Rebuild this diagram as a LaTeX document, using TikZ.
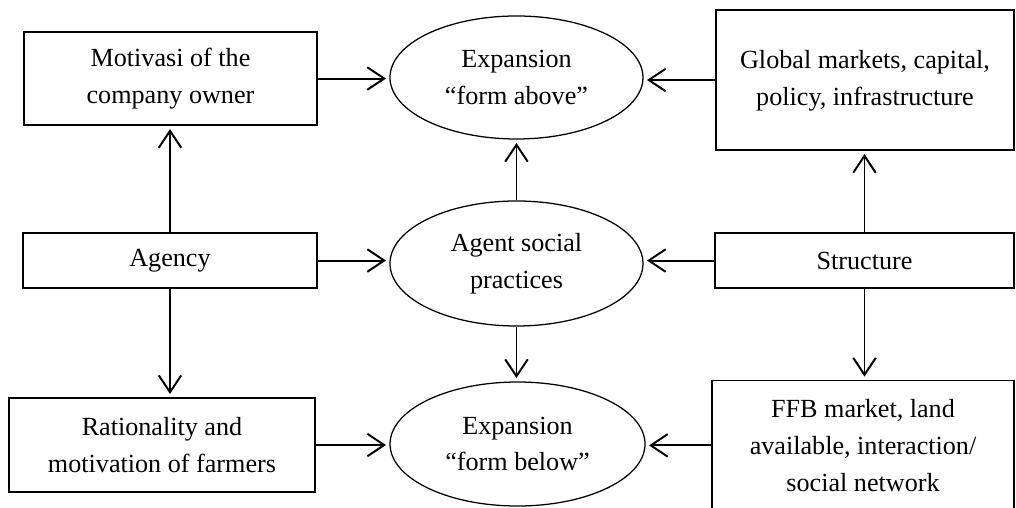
\documentclass[tikz,border=0pt]{standalone}
\usepackage{fontspec}
\setmainfont{Liberation Serif}
\usetikzlibrary{shapes.geometric}
\usetikzlibrary{arrows.meta}
\colorlet{lineColor}{black}
\tikzset{
	boxNode/.style={shape=rectangle, draw=lineColor, line width=0.5pt, align=center, inner sep=1pt, font=\fontsize{9.3}{13.1}\selectfont},
	ovalNode/.style={shape=ellipse, draw=lineColor, line width=0.45pt, align=center, inner sep=0pt, font=\fontsize{9.3}{13.1}\selectfont},
	flowArrow/.style={draw=lineColor, line width=0.7pt, -{Straight Barb[length=6pt, width=8pt]}, shorten >=1.2pt}
}

\begin{document}
\begin{tikzpicture}
	\clip (0, 0) rectangle (12.7, 6.3375);

	% --- Linke Spalte (Agency) ---
	\node[boxNode, minimum width=3.6625cm, minimum height=1.1625cm] (motivasi) at (2.131, 5.356){Motivasi of the\\company owner};
	\node[boxNode, minimum width=3.675cm, minimum height=0.6875cm] (agency) at (2.125, 3.081){Agency};
	\node[boxNode, minimum width=3.825cm, minimum height=1.175cm] (rational) at (2.025, 0.775){Rationality and\\motivation of farmers};

	% --- Mittlere Spalte (Ellipsen) ---
	\node[ovalNode, minimum width=3.1625cm, minimum height=1.5375cm] (above) at (6.456, 5.369){Expansion\\“form above”};
	\node[ovalNode, minimum width=3.1625cm, minimum height=1.5625cm] (agent) at (6.456, 3.044){Agent social\\practices};
	\node[ovalNode, minimum width=3.1875cm, minimum height=1.55cm] (below) at (6.469, 0.7875){Expansion\\“form below”};

	% --- Rechte Spalte (Structure) ---
	\node[boxNode, minimum width=3.725cm, minimum height=1.75cm] (global) at (10.8125, 5.3375){\raisebox{2.5pt}{\begin{tabular}{@{}c@{}}Global markets, capital,\\policy, infrastructure\end{tabular}}};
	\node[boxNode, minimum width=3.7375cm, minimum height=0.6875cm] (structure) at (10.806, 3.081){Structure};
	\node[boxNode, minimum width=3.775cm, minimum height=1.62cm] (ffb) at (10.7875, 0.77){FFB market, land\\available, interaction/\\social network};

	% --- Pfeile ---
	\draw[flowArrow] (agency.north) -- (agency.north |- motivasi.south);
	\draw[flowArrow] (agency.south) -- (agency.south |- rational.north);
	\draw[flowArrow] (agency.east) -- (agency.east -| agent.west);
	\draw[flowArrow] (motivasi.east) -- (motivasi.east -| above.west);
	\draw[flowArrow] (rational.east) -- (rational.east -| below.west);

	\draw[flowArrow] (agent.north) -- (agent.north |- above.south);
	\draw[flowArrow] (agent.south) -- (agent.south |- below.north);

	\draw[flowArrow] (structure.north) -- (structure.north |- global.south);
	\draw[flowArrow] (structure.south) -- (structure.south |- ffb.north);
	\draw[flowArrow] (structure.west) -- (structure.west -| agent.east);
	\draw[flowArrow] (global.west) -- (global.west -| above.east);
	\draw[flowArrow] (ffb.west) -- (ffb.west -| below.east);

\end{tikzpicture}
\end{document}
